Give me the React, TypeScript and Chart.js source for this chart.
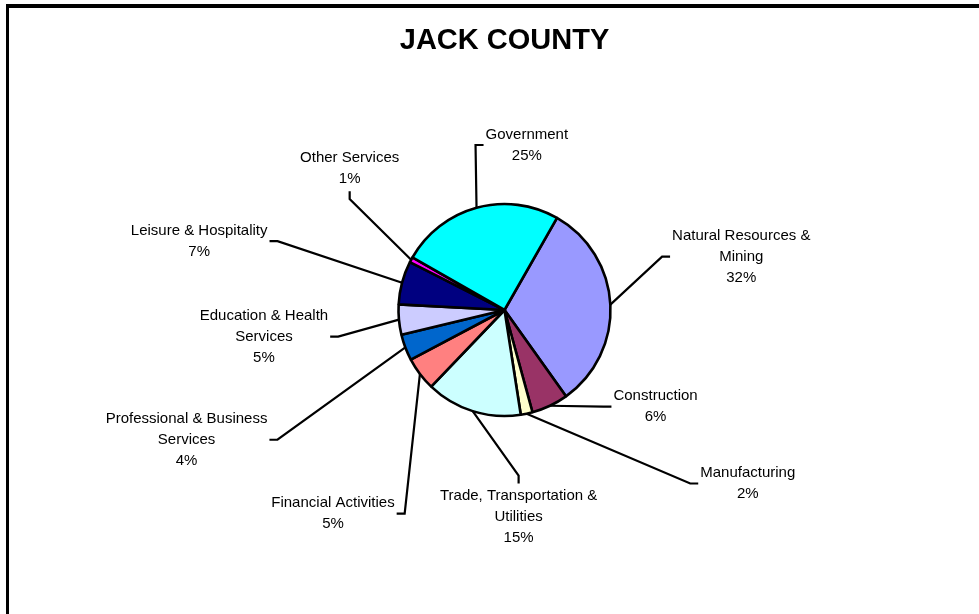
import React, { useEffect, useRef } from "react";
import { Chart, registerables } from "chart.js";

Chart.register(...registerables);

// ---- data ----
const categories: string[][] = [
  ["Natural Resources &", "Mining"],
  ["Construction"],
  ["Manufacturing"],
  ["Trade, Transportation &", "Utilities"],
  ["Financial Activities"],
  ["Professional & Business", "Services"],
  ["Education & Health", "Services"],
  ["Leisure & Hospitality"],
  ["Other Services"],
  ["Government"],
];
const shares: number[] = [31.9, 5.6, 1.8, 14.6, 5.1, 4.0, 4.6, 6.6, 0.8, 25.0];
const chartTitle = "JACK COUNTY";

// ---- style / layout ----
const sliceColors = [
  "#9999FF",
  "#993366",
  "#FFFFCC",
  "#CCFFFF",
  "#FF8080",
  "#0066CC",
  "#CCCCFF",
  "#000080",
  "#FF00FF",
  "#00FFFF",
];
// label placement: [angle (deg, clockwise from 12 o'clock), distance from pie centre (px), side of text the leader attaches to]
const LABEL_LAYOUT: [number, number, string][] = [
  [77.3, 242.7, "left"],
  [122.6, 179.3, "left"],
  [125.5, 298.8, "left"],
  [176.1, 207.5, "top"],
  [220.1, 266.3, "right"],
  [247.8, 343.4, "right"],
  [263.7, 242, "right"],
  [282.7, 313, "right"],
  [312.5, 210, "bottom"],
  [7.7, 166.5, "left"],
];
const FONT = '"Liberation Sans", Arial, sans-serif';

const framePlugin = {
  id: "frame",
  beforeDraw(chart: any) {
    const ctx = chart.ctx;
    ctx.save();
    ctx.fillStyle = "#fff";
    ctx.fillRect(0, 0, chart.width, chart.height);
    ctx.fillStyle = "#000";
    ctx.fillRect(6, 4, 3, chart.height - 4);
    ctx.fillRect(6, 4, chart.width - 6, 4);
    ctx.restore();
  },
};

const labelPlugin = {
  id: "sliceLabels",
  afterDatasetsDraw(chart: any) {
    const ctx = chart.ctx;
    const meta = chart.getDatasetMeta(0);
    const values: number[] = chart.data.datasets[0].data;
    const total = values.reduce((a, b) => a + b, 0);
    const lh = 21;
    ctx.save();
    ctx.font = `15px ${FONT}`;
    ctx.textAlign = "center";
    ctx.textBaseline = "middle";
    meta.data.forEach((arc: any, i: number) => {
      const { x, y, startAngle, endAngle, outerRadius } = arc.getProps(
        ["x", "y", "startAngle", "endAngle", "outerRadius"],
        true
      );
      const mid = (startAngle + endAngle) / 2;
      const ex = x + Math.cos(mid) * outerRadius;
      const ey = y + Math.sin(mid) * outerRadius;
      const [angDeg, dist, side] = LABEL_LAYOUT[i];
      const a = ((angDeg - 90) * Math.PI) / 180;
      const tx = x + Math.cos(a) * dist;
      const ty = y + Math.sin(a) * dist;
      const lines = [...categories[i], Math.round((values[i] / total) * 100) + "%"];
      const w = Math.max(...lines.map((l) => ctx.measureText(l).width));
      const h = lines.length * lh;
      let ax = tx,
        ay = ty,
        bx = tx,
        by = ty;
      if (side === "left") {
        ax = tx - w / 2 - 2;
        bx = ax - 8;
      } else if (side === "right") {
        ax = tx + w / 2 + 2;
        bx = ax + 8;
      } else if (side === "top") {
        ay = ty - h / 2 - 2;
        by = ay - 8;
      } else {
        ay = ty + h / 2 + 2;
        by = ay + 8;
      }
      ctx.strokeStyle = "#000";
      ctx.lineWidth = 2.2;
      ctx.beginPath();
      ctx.moveTo(ex, ey);
      ctx.lineTo(bx, by);
      ctx.lineTo(ax, ay);
      ctx.stroke();
      ctx.fillStyle = "#000";
      lines.forEach((l, k) => {
        ctx.fillText(l, tx, ty - ((lines.length - 1) / 2) * lh + k * lh);
      });
    });
    ctx.restore();
  },
};

export default function App() {
  const ref = useRef<HTMLCanvasElement | null>(null);
  useEffect(() => {
    if (!ref.current) return;
    const chart = new Chart(ref.current, {
      type: "pie",
      data: {
        labels: categories.map((c) => c.join(" ")),
        datasets: [
          {
            data: shares,
            backgroundColor: sliceColors,
            borderColor: "#000",
            borderWidth: 2.6,
            radius: 106,
          } as any,
        ],
      },
      options: {
        responsive: false,
        animation: false,
        rotation: 29.7,
        layout: { padding: { top: 8, left: 130, right: 100, bottom: 94 } },
        plugins: {
          legend: { display: false },
          tooltip: { enabled: false },
          title: {
            display: true,
            text: chartTitle,
            color: "#000",
            font: { family: FONT, size: 29, weight: "bold" },
            padding: { top: 16, bottom: 41.2 },
          },
        },
      } as any,
      plugins: [framePlugin, labelPlugin],
    });
    return () => chart.destroy();
  }, []);
  return (
    <canvas
      ref={ref}
      width={979}
      height={614}
      style={{ position: "fixed", left: 0, top: 0, width: 979, height: 614, display: "block" }}
    />
  );
}
